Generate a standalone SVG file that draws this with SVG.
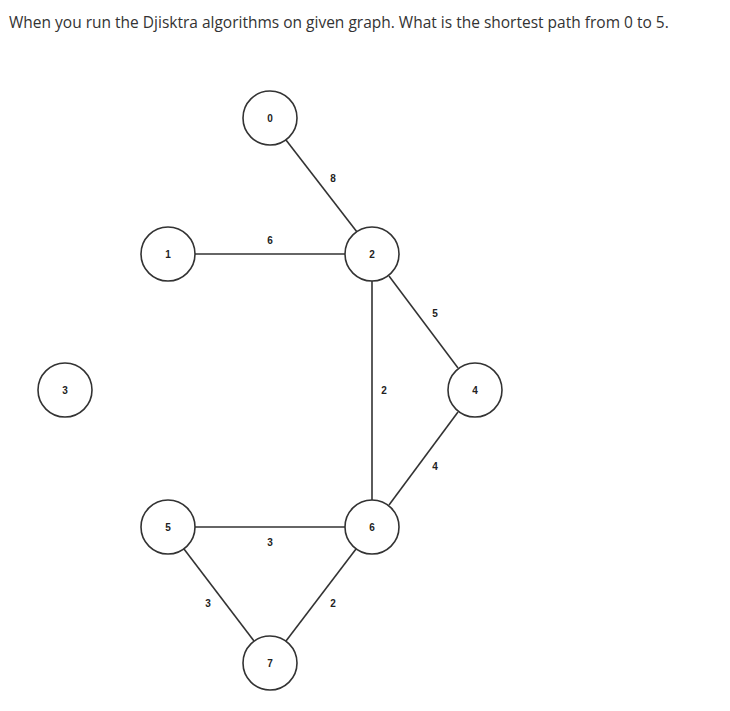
<svg xmlns="http://www.w3.org/2000/svg" width="730" height="711" viewBox="0 0 730 711">
<style>
.n circle{fill:#fff;stroke:#333;stroke-width:1.6}
.n text,.l{font-family:"Liberation Sans",Arial,sans-serif;font-size:10px;font-weight:bold;fill:#222;text-anchor:middle;dominant-baseline:central}
#edges line{stroke:#333;stroke-width:1.6}
</style>
<rect width="730" height="711" fill="#fff"/>
<text x="9" y="28" font-family="'Open Sans',sans-serif" font-size="15.5" fill="#333">When you run the Djisktra algorithms on given graph. What is the shortest path from 0 to 5.</text>
<g id="edges">
<line x1="286" y1="140" x2="357" y2="232"/>
<line x1="195" y1="254" x2="345" y2="254"/>
<line x1="372" y1="281" x2="372" y2="500"/>
<line x1="389" y1="276" x2="458" y2="368"/>
<line x1="458" y1="412" x2="389" y2="505"/>
<line x1="195" y1="527" x2="345" y2="527"/>
<line x1="184" y1="549" x2="254" y2="641"/>
<line x1="356" y1="549" x2="286" y2="641"/>
<text class="l" x="333" y="178">8</text>
<text class="l" x="270" y="240">6</text>
<text class="l" x="435" y="313">5</text>
<text class="l" x="384" y="390">2</text>
<text class="l" x="435" y="466">4</text>
<text class="l" x="270" y="542">3</text>
<text class="l" x="208" y="603">3</text>
<text class="l" x="333" y="603">2</text>
</g>
<g id="n0" class="n"><circle cx="270" cy="118" r="27"/><text x="270" y="118">0</text></g>
<g id="n1" class="n"><circle cx="168" cy="254" r="27"/><text x="168" y="254">1</text></g>
<g id="n2" class="n"><circle cx="372" cy="254" r="27"/><text x="372" y="254">2</text></g>
<g id="n3" class="n"><circle cx="65" cy="390" r="27"/><text x="65" y="390">3</text></g>
<g id="n4" class="n"><circle cx="475" cy="390" r="27"/><text x="475" y="390">4</text></g>
<g id="n5" class="n"><circle cx="168" cy="527" r="27"/><text x="168" y="527">5</text></g>
<g id="n6" class="n"><circle cx="372" cy="527" r="27"/><text x="372" y="527">6</text></g>
<g id="n7" class="n"><circle cx="270" cy="663" r="27"/><text x="270" y="663">7</text></g>
</svg>
